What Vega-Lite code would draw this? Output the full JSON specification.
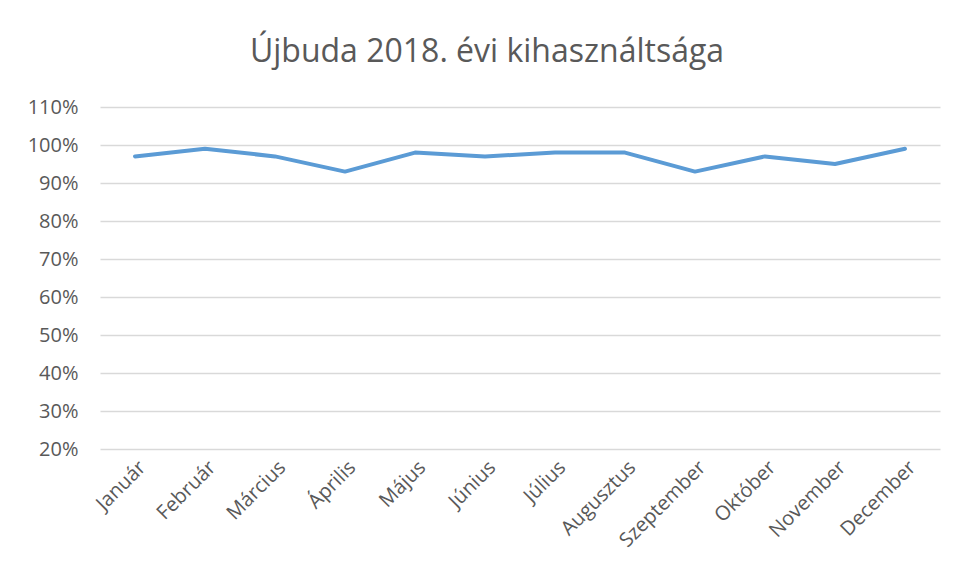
{
  "$schema": "https://vega.github.io/schema/vega-lite/v6.json",
  "width": 840,
  "height": 342,
  "autosize": {"type": "none"},
  "padding": {"left": 100, "top": 107, "right": 16, "bottom": 132},
  "background": "white",
  "title": {
    "text": "Újbuda 2018. évi kihasználtsága",
    "font": "Open Sans",
    "fontSize": 32,
    "fontWeight": "normal",
    "color": "#595959",
    "anchor": "middle",
    "dx": -33,
    "offset": 28
  },
  "data": {
    "values": [
      {"month": "Január", "value": 0.97},
      {"month": "Február", "value": 0.99},
      {"month": "Március", "value": 0.97},
      {"month": "Április", "value": 0.93},
      {"month": "Május", "value": 0.98},
      {"month": "Június", "value": 0.97},
      {"month": "Július", "value": 0.98},
      {"month": "Augusztus", "value": 0.98},
      {"month": "Szeptember", "value": 0.93},
      {"month": "Október", "value": 0.97},
      {"month": "November", "value": 0.95},
      {"month": "December", "value": 0.99}
    ]
  },
  "mark": {"type": "line", "color": "#5b9bd5", "strokeWidth": 4, "strokeCap": "round", "strokeJoin": "round"},
  "encoding": {
    "x": {
      "field": "month",
      "type": "ordinal",
      "sort": null,
      "scale": {"paddingInner": 0, "paddingOuter": 0.5},
      "axis": {
        "title": null,
        "domain": false,
        "ticks": false,
        "labelAngle": -45,
        "labelFont": "Open Sans",
        "labelFontSize": 20,
        "labelColor": "#595959",
        "labelPadding": 8
      }
    },
    "y": {
      "field": "value",
      "type": "quantitative",
      "scale": {"domain": [0.2, 1.1], "nice": false, "zero": false},
      "axis": {
        "title": null,
        "values": [0.2, 0.3, 0.4, 0.5, 0.6, 0.7, 0.8, 0.9, 1.0, 1.1],
        "format": ".0%",
        "domain": false,
        "ticks": false,
        "gridColor": "#d9d9d9",
        "gridWidth": 1.5,
        "labelFont": "Open Sans",
        "labelFontSize": 20,
        "labelColor": "#595959",
        "labelPadding": 22
      }
    }
  },
  "config": {"view": {"stroke": null}}
}
